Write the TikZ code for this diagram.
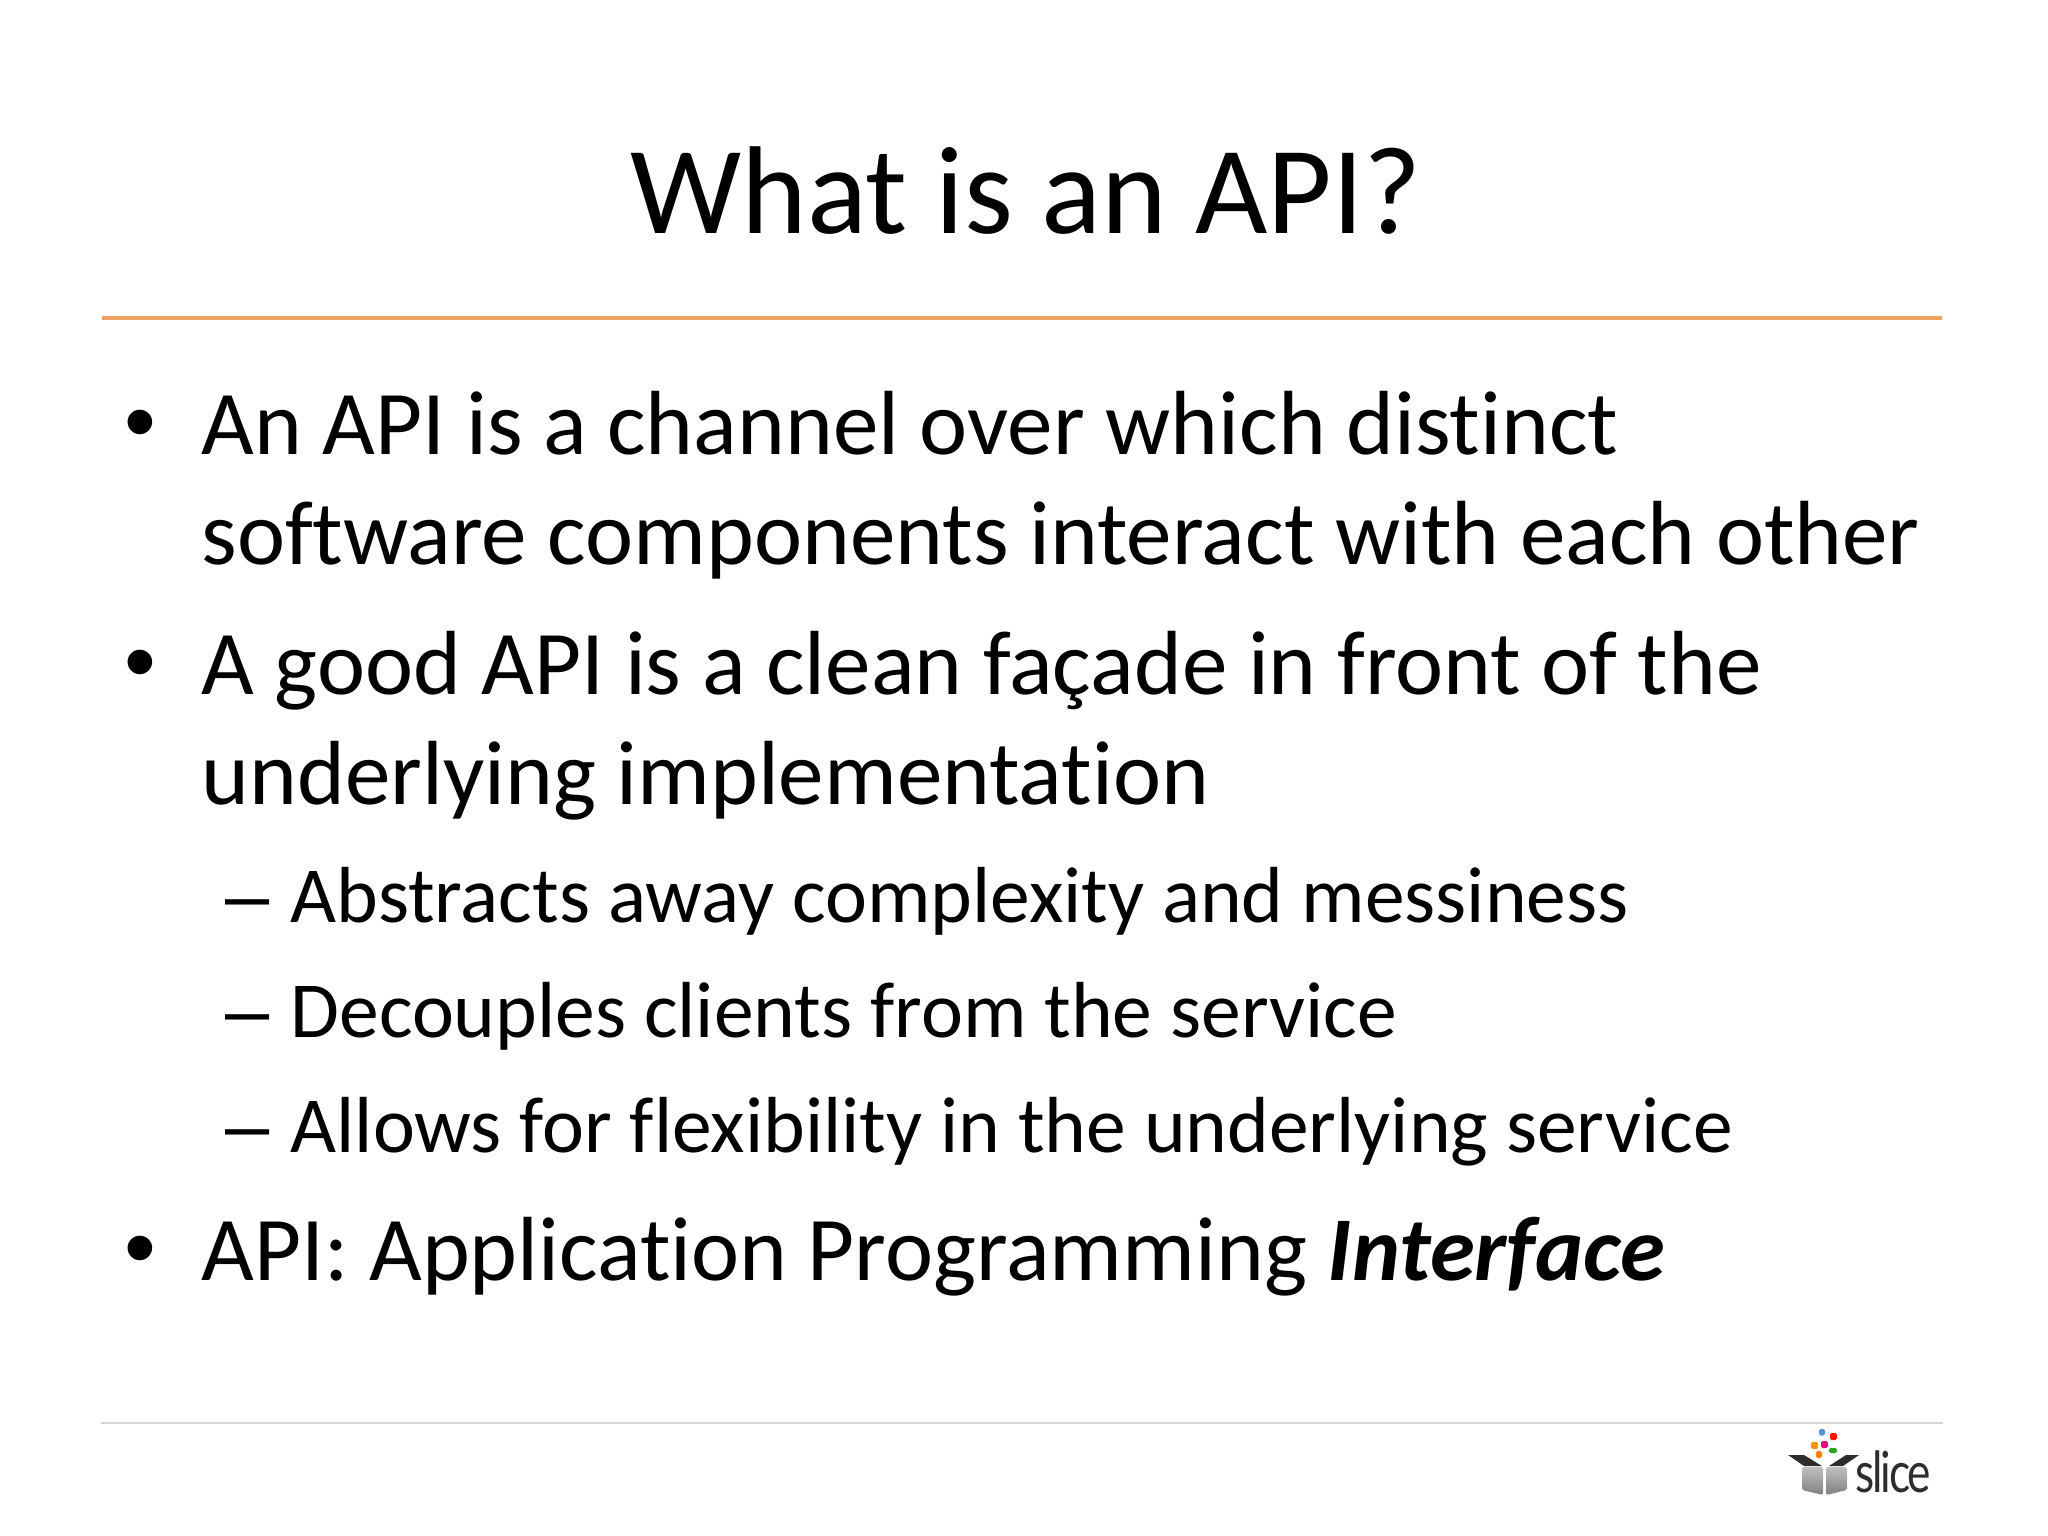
\documentclass[tikz,border=0pt]{standalone}
\usepackage{fontspec}
\setmainfont{Carlito}[Ligatures=CommonOff]
\newfontfamily\markfont{Liberation Sans}
\newfontfamily\logofont{Lato}[LetterSpace=-5]
\definecolor{ruleorange}{HTML}{EEA264}
\definecolor{rulegrey}{HTML}{D4D4D4}
\definecolor{flapdark}{HTML}{2E2C2D}
\usetikzlibrary{positioning}

\begin{document}
\begin{tikzpicture}[x=25.4cm/2048,y=-25.4cm/2048]
\tikzset{titletext/.style = {anchor=base, inner sep=0pt, font=\fontsize{44.1}{53}\selectfont}}
\tikzset{bodytext/.style = {anchor=base west, inner sep=0pt, font=\fontsize{32.15}{38}\selectfont}}
\tikzset{subtext/.style = {anchor=base west, inner sep=0pt, font=\fontsize{28.05}{34}\selectfont}}
\tikzset{bodymark/.style = {anchor=base west, inner sep=0pt, font=\markfont\fontsize{32}{38}\selectfont}}
\tikzset{submark/.style = {anchor=base west, inner sep=0pt, font=\markfont\fontsize{28}{34}\selectfont}}
\tikzset{piece/.style = {rounded corners=0.6pt}}

\useasboundingbox (0,0) rectangle (2048,1536);

\node[titletext] (title) at (1026,233) {What is an API?};
\coordinate (ruleL) at (102,318);
\coordinate (ruleR) at (1942,318);
\draw[ruleorange, line width=1.2pt] (ruleL) -- (ruleR);

% first point
\node[bodymark] (dotA) at (124,452) {•};
\node[bodytext] (lineA) at (201,454) {An API is a channel over which distinct};
\node[bodytext] (lineB) at (201,564) {software components interact with each other};

% second point
\node[bodymark] (dotB) at (124,692) {•};
\node[bodytext] (lineC) at (201,694) {A good API is a clean façade in front of the};
\node[bodytext] (lineD) at (201,804) {underlying implementation};

\node[submark] (dashA) at (225,922) {–};
\node[subtext] (subA) at (290,922) {Abstracts away complexity and messiness};
\node[submark] (dashB) at (225,1037) {–};
\node[subtext] (subB) at (290,1037) {Decouples clients from the service};
\node[submark] (dashC) at (225,1152) {–};
\node[subtext] (subC) at (290,1152) {Allows for flexibility in the underlying service};

% third point
\node[bodymark] (dotC) at (124,1278) {•};
\node[bodytext] (lineE) at (201,1280) {API: Application Programming \textbf{\textit{Interface}}};

\coordinate (footL) at (101,1423);
\coordinate (footR) at (1943,1423);
\draw[rulegrey, line width=0.6pt] (footL) -- (footR);

% logo
\fill[flapdark] (1788,1455) -- (1804,1455) -- (1822,1466) -- (1804,1466) -- cycle;
\fill[flapdark] (1829,1466) -- (1846,1455) -- (1859,1455) -- (1843,1466) -- cycle;
\shade[bottom color=black!50, top color=black!25, piece] (1802,1467) -- (1823,1467) -- (1823,1495) -- (1802,1490) -- cycle;
\shade[bottom color=black!50, top color=black!25, piece] (1826,1467) -- (1847,1467) -- (1847,1490) -- (1826,1495) -- cycle;
\fill[cyan!55!blue!70, piece] (1819,1429) rectangle (1825,1435.5);
\fill[red!85!orange, piece] (1830,1433) rectangle (1837,1440);
\fill[orange!85!yellow, piece] (1811,1442) rectangle (1818,1449);
\fill[magenta!90!red, piece] (1821,1441) rectangle (1828,1448);
\fill[orange, piece] (1816,1451) rectangle (1822,1458);
\fill[green!60!black!85, piece] (1829,1448) rectangle (1837,1453);
\node[anchor=base west, inner sep=0pt, font=\logofont\fontsize{20}{24}\selectfont, text=flapdark] (logotext) at (1855,1492) {\scalebox{0.78}[1]{slice}};
\end{tikzpicture}
\end{document}
